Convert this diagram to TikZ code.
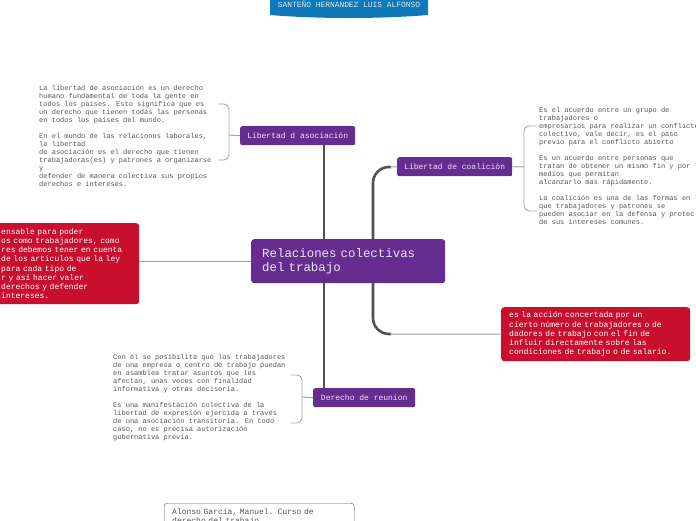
\documentclass[tikz,border=0pt]{standalone}
\usepackage{fontspec}
\setmainfont{Liberation Mono}[WordSpace={1,0,0}]
\definecolor{purp}{HTML}{662D91}
\definecolor{redb}{HTML}{C8102E}
\definecolor{blueb}{HTML}{0F78B8}
\definecolor{conn}{HTML}{4B5359}
\definecolor{brk}{HTML}{A0A4A8}
\definecolor{txt}{HTML}{555555}
\definecolor{ltxt}{HTML}{EDE3F5}
\begin{document}
\begin{tikzpicture}[x=1pt,y=-1pt,
  topic/.style={draw=none,fill=purp,rounded corners=2pt,text=ltxt,anchor=north west,
    font=\fontsize{8}{9}\selectfont,inner sep=0pt,align=center},
  redbox/.style={fill=redb,rounded corners=3pt,text=white,anchor=north west,
    font=\fontsize{8}{9.2}\selectfont,inner ysep=0pt,align=left},
  plain/.style={anchor=north west,inner sep=0pt,text=txt,align=left,
    font=\fontsize{7}{8}\selectfont},
  mainline/.style={draw=conn,line width=2.6pt},
  thinline/.style={draw=brk,line width=1pt},
  bracket/.style={draw=brk,line width=0.9pt,rounded corners=5pt}]
\useasboundingbox (0,0) rectangle (696,520);

% banner
\fill[blueb] (270,-10) -- (428,-10) -- (428,15) .. controls (380,19) and (318,19) .. (270,15) -- cycle;
\node[text=white!85!blueb,font=\fontsize{7.9}{9}\selectfont] (banner) at (349,4) {SANTEÑO HERNANDEZ LUIS ALFONSO};

% central
\node[fill=purp,rounded corners=3pt,text=ltxt,anchor=north west,minimum width=194pt,minimum height=44pt,
  text width=172pt,inner xsep=11pt,inner ysep=0pt,align=left,font=\fontsize{12.4}{14}\selectfont]
  (central) at (251,239) {Relaciones colectivas\\del trabajo};

% topics
\node[topic,minimum width=115pt,minimum height=19pt] (asoc) at (240,126) {Libertad d asociación};
\node[topic,minimum width=115pt,minimum height=19pt] (coal) at (397,157) {Libertad de coalición};
\node[topic,minimum width=102pt,minimum height=19pt] (reun) at (313,388) {Derecho de reunion};

% red boxes
\node[redbox,minimum width=149pt,minimum height=81pt,text width=127pt,inner xsep=11pt] (lred) at (-10,223)
 {ensable para poder\\os como trabajadores, como\\res debemos tener en cuenta\\de los articulos que la ley\\para cada tipo de\\r y así hacer valer\\derechos y defender\\intereses.};
\node[redbox,minimum width=189pt,minimum height=54pt,text width=173pt,inner xsep=8pt] (rred) at (501,307)
 {es la acción concertada por un\\cierto número de trabajadores o de\\dadores de trabajo con el fin de\\influir directamente sobre las\\condiciones de trabajo o de salario.};

% reference
\node[draw=txt,fill=white,rounded corners=3pt,anchor=north west,minimum width=190pt,text width=174pt,
  inner xsep=8pt,inner ysep=5pt,align=left,text=txt,font=\fontsize{8}{9.5}\selectfont] (ref) at (164,503)
 {Alonso García, Manuel. Curso de\\derecho del trabajo};

% plain texts
\node[plain] (tasoc) at (39,85) {La libertad de asociación es un derecho\\humano fundamental de toda la gente en\\todos los países. Esto significa que es\\un derecho que tienen todas las personas\\en todos los países del mundo.\\[8pt]En el mundo de las relaciones laborales,\\la libertad\\de asociación es el derecho que tienen\\trabajadoras(es) y patrones a organizarse\\y\\defender de manera colectiva sus propios\\derechos e intereses.};
\node[plain] (tcoal) at (539,107) {Es el acuerdo entre un grupo de\\trabajadores o\\empresarios para realizar un conflicto\\colectivo, vale decir, es el paso\\previo para el conflicto abierto\\[8pt]Es un acuerdo entre personas que\\tratan de obtener un mismo fin y por l\\medios que permitan\\alcanzarlo mas rápidamente.\\[8pt]La coalición es una de las formas en l\\que trabajadores y patrones se\\pueden asociar en la defensa y protec\\de sus intereses comunes.};
\node[plain] (treun) at (113,354) {Con él se posibilita que los trabajadores\\de una empresa o centro de trabajo puedan\\en asamblea tratar asuntos que les\\afectan, unas veces con finalidad\\informativa y otras decisoria.\\[8pt]Es una manifestación colectiva de la\\libertad de expresión ejercida a través\\de una asociación transitoria. En todo\\caso, no es precisa autorización\\gubernativa previa.};

% connectors
\coordinate (c1) at (324,239);
\coordinate (c2) at (373,239);
\coordinate (c3) at (324,283);
\coordinate (c4) at (373,283);
\draw[mainline] (c1) -- (asoc.south -| c1);
\draw[mainline] (c3) -- (reun.north -| c3);
\draw[mainline,rounded corners=16pt] (c2) -- (373,167) -- (391,167);
\draw[thinline] (390,167) -- (coal.west);
\draw[mainline,rounded corners=16pt] (c4) -- (373,334) -- (391,334);
\draw[thinline] (390,334) -- (rred.west);
\draw[thinline] (central.west) -- (lred.east |- central.west);

% brackets
\draw[thinline] (asoc.west) -- (229,135);
\draw[bracket] (218,104) -- (229,104) -- (229,160) -- (218,160);
\draw[thinline] (coal.east) -- (524,167);
\draw[bracket] (537,126) -- (524,126) -- (524,211) -- (537,211);
\draw[thinline] (reun.west) -- (302,397);
\draw[bracket] (291,375) -- (302,375) -- (302,423) -- (291,423);
\end{tikzpicture}
\end{document}
